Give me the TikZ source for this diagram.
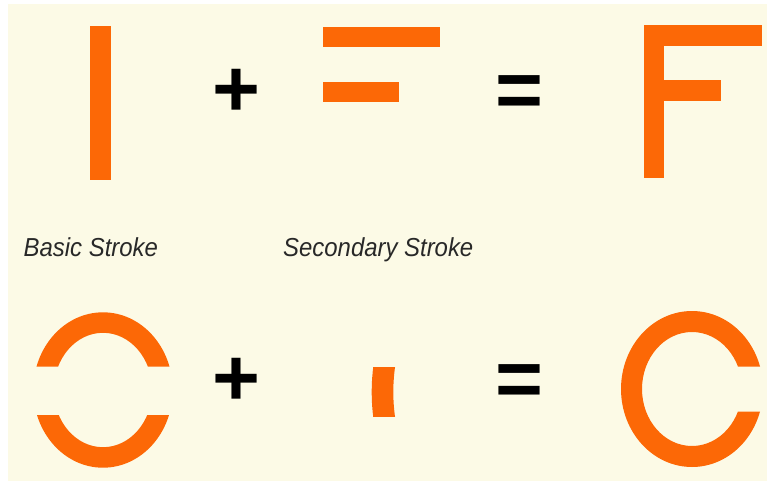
\documentclass[tikz,border=0pt]{standalone}
\usepackage{fontspec}
\newfontfamily\arialfont{Liberation Sans}
\definecolor{cream}{RGB}{252,250,230}
\definecolor{strokeorange}{RGB}{252,104,6}
\definecolor{labelgray}{RGB}{40,40,40}
\begin{document}
\begin{tikzpicture}[x=1pt,y=-1pt,
  part/.style={fill=strokeorange},
  opsign/.style={inner sep=0pt,font=\arialfont\bfseries\fontsize{76}{76}\selectfont,text=black,xscale=1.08,yscale=1.06,transform shape},
  label/.style={inner sep=0pt,anchor=base west,text=labelgray,
    font=\arialfont\itshape\fontsize{26}{26}\selectfont,xscale=0.92,transform shape}]
\useasboundingbox (0,0) rectangle (767,486);
\fill[white] (0,0) rectangle (767,486);
\fill[cream] (8,4) rectangle (767,481);
% top row
\fill[part] (90,26.5) rectangle (110.5,180);
\node[opsign] (plusA) at (236.7,93) {+};
\fill[part] (322.7,26.7) rectangle (440,46.7);
\fill[part] (322.7,81.7) rectangle (399.3,101.7);
\node[opsign] (eqA) at (519.5,96.3) {=};
\fill[part] (643.5,25) rectangle (664,178.5);
\fill[part] (643.5,25) rectangle (761.7,46);
\fill[part] (643.5,80) rectangle (720.7,100.7);
% labels
\node[label] (basic) at (23.5,256) {Basic Stroke};
\node[label] (secondary) at (283,256) {Secondary Stroke};
% bottom row: broken circle
\begin{scope}
  \clip (0,0) rectangle (767,366.7) (0,415) rectangle (767,486);
  \fill[part,even odd rule] (103,390) ellipse [x radius=69.7,y radius=77.7]
    (103,390) ellipse [x radius=49.2,y radius=57.2];
\end{scope}
\node[opsign] (plusB) at (236.7,382) {+};
% small secondary piece
\begin{scope}
  \clip (300,367.5) rectangle (420,416.5);
  \fill[part,even odd rule] (571.7,392) circle [radius=200]
    (571.7,392) circle [radius=178.4];
\end{scope}
\node[opsign] (eqB) at (519.5,385.3) {=};
% C
\begin{scope}
  \clip (0,0) rectangle (767,366.7) (0,411.7) rectangle (767,486) (0,366.7) rectangle (692,411.7);
  \fill[part,even odd rule] (692,389) ellipse [x radius=71,y radius=78]
    (692,389) ellipse [x radius=50,y radius=57];
\end{scope}
\end{tikzpicture}
\end{document}
